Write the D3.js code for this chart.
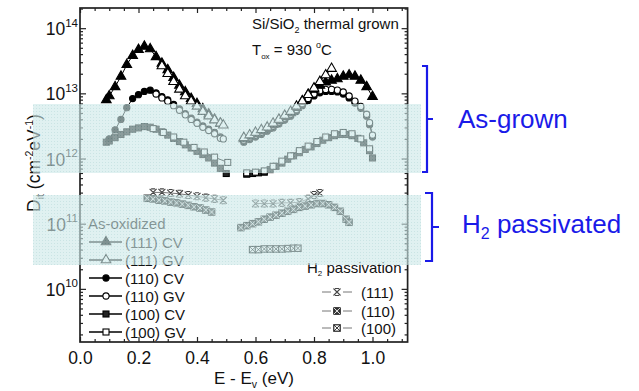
<!DOCTYPE html>
<html><head><meta charset="utf-8">
<script src="https://cdn.jsdelivr.net/npm/d3@7"></script>
<style>body{margin:0;background:#fff}svg{display:block}</style>
</head><body>
<svg id="c" width="639" height="391"></svg>
<script>
// ---------- DATA (E - Ev in eV, Dit in cm^-2 eV^-1) ----------
const xTickLabels = [0.0, 0.2, 0.4, 0.6, 0.8, 1.0];
const yTickExps = [10, 11, 12, 13, 14];

// As-oxidized (as-grown) series
const e111CV_L = [0.09,0.10,0.12,0.14,0.16,0.18,0.20,0.22,0.24,0.26,0.28,0.30,0.32,0.34,0.36,0.38,0.40,0.42,0.44,0.46,0.48];
const d111CV_L = [7.94e12,9.12e12,1.26e13,1.82e13,2.75e13,3.80e13,4.68e13,5.25e13,4.79e13,3.63e13,2.88e13,2.29e13,1.74e13,1.32e13,1.05e13,8.32e12,6.92e12,5.75e12,4.79e12,3.98e12,3.47e12];
const e111CV_R = [0.56,0.58,0.60,0.62,0.64,0.66,0.68,0.70,0.72,0.74,0.76,0.78,0.80,0.82,0.84,0.86,0.88,0.90,0.92,0.94,0.96,0.98,1.00];
const d111CV_R = [2.00e12,2.19e12,2.40e12,2.63e12,2.88e12,3.31e12,3.80e12,4.37e12,5.01e12,6.03e12,7.59e12,9.55e12,1.15e13,1.32e13,1.48e13,1.58e13,1.66e13,1.82e13,1.91e13,1.82e13,1.58e13,1.26e13,8.91e12];

const e111GV_L = [0.28,0.30,0.32,0.34,0.36,0.38,0.40,0.42,0.44,0.46,0.48,0.49];
const d111GV_L = [2.63e13,2.00e13,1.51e13,1.15e13,9.12e12,7.59e12,6.31e12,5.25e12,4.47e12,3.89e12,3.47e12,3.24e12];
const e111GV_R = [0.56,0.58,0.60,0.62,0.64,0.66,0.68,0.70,0.72,0.74,0.76,0.78,0.80,0.82,0.84,0.86];
const d111GV_R = [2.09e12,2.29e12,2.51e12,2.75e12,3.02e12,3.47e12,3.98e12,4.57e12,5.25e12,6.31e12,7.59e12,9.55e12,1.20e13,1.51e13,1.91e13,2.40e13];

const e110CV_L = [0.10,0.12,0.14,0.16,0.18,0.20,0.22,0.24,0.26,0.28,0.30,0.32,0.34,0.36,0.38,0.40,0.42,0.44,0.46,0.48];
const d110CV_L = [2.00e12,2.75e12,3.98e12,6.03e12,8.32e12,9.55e12,1.07e13,1.12e13,1.02e13,8.91e12,7.94e12,6.76e12,5.75e12,4.90e12,4.17e12,3.63e12,3.16e12,2.82e12,2.51e12,2.14e12];
const e110CV_R = [0.56,0.58,0.60,0.62,0.64,0.66,0.68,0.70,0.72,0.74,0.76,0.78,0.80,0.82,0.84,0.86,0.88,0.90,0.92,0.94,0.96,0.98,0.99,1.00];
const d110CV_R = [1.78e12,1.95e12,2.14e12,2.34e12,2.63e12,2.95e12,3.39e12,3.89e12,4.47e12,5.25e12,6.46e12,7.76e12,9.12e12,1.02e13,1.07e13,1.07e13,1.05e13,9.77e12,8.51e12,7.08e12,5.89e12,4.47e12,3.31e12,2.14e12];

const e110GV_L = [0.26,0.28,0.30,0.32,0.34,0.36,0.38,0.40,0.42,0.44,0.46,0.48,0.49];
const d110GV_L = [9.77e12,8.51e12,7.59e12,6.46e12,5.50e12,4.68e12,3.98e12,3.47e12,3.02e12,2.69e12,2.40e12,2.04e12,2.00e12];
const e110GV_R = [0.56,0.58,0.60,0.62,0.64,0.66,0.68,0.70,0.72,0.74,0.76,0.78,0.80,0.82,0.84,0.86,0.88,0.90,0.92,0.94,0.96,0.98,0.99,1.00];
const d110GV_R = [1.91e12,2.09e12,2.29e12,2.51e12,2.82e12,3.16e12,3.63e12,4.17e12,4.79e12,5.62e12,6.92e12,8.32e12,9.77e12,1.10e13,1.15e13,1.15e13,1.12e13,1.05e13,9.12e12,7.59e12,6.31e12,4.79e12,3.55e12,2.29e12];

const e100CV_L = [0.09,0.10,0.12,0.14,0.16,0.18,0.20,0.22,0.24,0.26,0.28,0.30,0.32,0.34,0.36,0.38,0.40,0.42,0.44,0.46,0.48,0.50];
const d100CV_L = [1.78e12,1.86e12,2.09e12,2.34e12,2.57e12,2.82e12,2.95e12,3.09e12,3.02e12,2.82e12,2.57e12,2.29e12,2.04e12,1.82e12,1.62e12,1.45e12,1.29e12,1.15e12,1.02e12,8.51e11,7.08e11,5.89e11];
const e100CV_R = [0.57,0.59,0.61,0.63,0.65,0.67,0.69,0.71,0.73,0.75,0.77,0.79,0.81,0.83,0.85,0.87,0.89,0.91,0.93,0.95,0.97,0.99,1.00];
const d100CV_R = [5.75e11,5.89e11,6.03e11,6.17e11,6.76e11,7.59e11,8.51e11,9.77e11,1.10e12,1.23e12,1.38e12,1.51e12,1.70e12,1.91e12,2.09e12,2.24e12,2.34e12,2.34e12,2.24e12,2.04e12,1.74e12,1.32e12,1.02e12];

const e100GV_L = [0.25,0.285,0.32,0.355,0.39,0.425,0.46,0.505];
const d100GV_L = [2.88e12,2.51e12,2.14e12,1.78e12,1.48e12,1.26e12,1.05e12,8.71e11];
const e100GV_R = [0.57,0.60,0.63,0.66,0.69,0.72,0.75,0.78,0.81,0.84,0.87,0.90,0.93,0.96,0.99];
const d100GV_R = [6.03e11,6.17e11,6.46e11,7.59e11,9.12e11,1.10e12,1.32e12,1.55e12,1.82e12,2.14e12,2.40e12,2.51e12,2.40e12,2.00e12,1.41e12];

// H2 passivated series
const eH111_L = [0.25,0.28,0.31,0.34,0.37,0.40,0.43,0.46,0.49];
const dH111_L = [3.02e11,3.02e11,2.95e11,2.88e11,2.75e11,2.63e11,2.51e11,2.40e11,2.29e11];
const eH111_R = [0.60,0.63,0.66,0.69,0.72,0.75,0.78,0.80,0.82];
const dH111_R = [2.04e11,2.04e11,2.04e11,2.09e11,2.09e11,2.14e11,2.40e11,2.75e11,2.95e11];
const eH110_L = [0.23,0.25,0.27,0.29,0.31,0.33,0.35,0.37,0.39,0.41,0.43,0.45];
const dH110_L = [2.45e11,2.40e11,2.29e11,2.24e11,2.14e11,2.09e11,2.00e11,1.91e11,1.82e11,1.74e11,1.62e11,1.51e11];
const eH110_R = [0.55,0.57,0.59,0.61,0.63,0.65,0.67,0.69,0.71,0.73,0.75,0.77,0.79,0.81,0.83,0.85,0.87,0.89,0.91,0.92];
const dH110_R = [8.71e10,9.33e10,1.00e11,1.07e11,1.17e11,1.26e11,1.35e11,1.45e11,1.55e11,1.66e11,1.78e11,1.86e11,1.95e11,2.04e11,2.04e11,1.95e11,1.78e11,1.55e11,1.17e11,1.05e11];
const eH100_R = [0.59,0.61,0.63,0.65,0.67,0.69,0.71,0.73,0.745];
const dH100_R = [4.0e10,4.0e10,4.1e10,4.1e10,4.1e10,4.1e10,4.15e10,4.2e10,4.2e10];

const asLegend = ["(111) CV","(111) GV","(110) CV","(110) GV","(100) CV","(100) GV"];
const asLegendMarks = ["triF","triO","cirF","cirO","sqF","sqO"];
const h2Legend = ["(111)","(110)","(100)"];
const h2LegendMarks = ["xM","sqXF","sqXO"];

// ---------- LAYOUT ----------
const FONT = "'Liberation Sans', Arial, Helvetica, sans-serif";
const L = 80, R = 407.6, T = 8, B = 342;
const BLUE = "#1a1ae8";
const svg = d3.select("#c");
const x = d3.scaleLinear().domain([0, 1.12]).range([L, R]);
const y = d3.scaleLog().domain([1.53e9, 2.04e14]).range([B, T]);

const zip = (es, ds) => es.map((e, i) => ({e, d: ds[i]}));

// marker drawing
function drawMark(g, type, cx, cy) {
  const s = g.append("g").attr("transform", `translate(${cx},${cy})`);
  const sw = 1.1;
  if (type === "triF" || type === "triO") {
    s.append("path").attr("d", d3.symbol(d3.symbolTriangle, 40)())
      .attr("fill", type === "triF" ? "#000" : "#fff").attr("stroke", "#000").attr("stroke-width", sw);
  } else if (type === "cirF" || type === "cirO") {
    s.append("circle").attr("r", 3.1)
      .attr("fill", type === "cirF" ? "#000" : "#fff").attr("stroke", "#000").attr("stroke-width", sw);
  } else if (type === "sqF" || type === "sqO") {
    s.append("rect").attr("x", -3).attr("y", -3).attr("width", 6).attr("height", 6)
      .attr("fill", type === "sqF" ? "#222" : "#fff").attr("stroke", "#000").attr("stroke-width", sw);
  } else if (type === "xM") {
    s.append("path").attr("d", "M-3.5,-3.5L3.5,3.5M3.5,-3.5L-3.5,3.5M-2,-3.5L2,-3.5M-2,3.5L2,3.5")
      .attr("fill", "none").attr("stroke", "#444").attr("stroke-width", 1.1);
  } else if (type === "sqXF" || type === "sqXO") {
    s.append("rect").attr("x", -3.2).attr("y", -3.2).attr("width", 6.4).attr("height", 6.4)
      .attr("fill", type === "sqXF" ? "#444" : "#fff").attr("stroke", "#111").attr("stroke-width", 1.1);
    s.append("path").attr("d", "M-3.2,-3.2L3.2,3.2M3.2,-3.2L-3.2,3.2")
      .attr("stroke", type === "sqXF" ? "#eee" : "#222").attr("stroke-width", 0.9);
  }
}

function drawSeries(es, ds, type, lineColor) {
  const data = zip(es, ds);
  const g = svg.append("g");
  g.append("path").datum(data)
    .attr("d", d3.line().x(p => x(p.e)).y(p => y(p.d)))
    .attr("fill", "none").attr("stroke", lineColor || "#000").attr("stroke-width", 1);
  data.forEach(p => drawMark(g, type, x(p.e), y(p.d)));
}

// ---------- AXES ----------
const xMinor = d3.range(0, 1.12, 0.05).filter(v => Math.abs(v / 0.2 - Math.round(v / 0.2)) > 0.01);
const yMajor = yTickExps.map(k => Math.pow(10, k));
const yMinor = [];
for (let k = 9; k <= 14; k++) for (let m = 2; m <= 9; m++) {
  const v = m * Math.pow(10, k);
  if (v > y.domain()[0] && v < y.domain()[1]) yMinor.push(v);
}
function axisStyle(g) { g.select(".domain").remove(); g.selectAll("line").attr("stroke", "#222").attr("stroke-width", 1.2); }

svg.append("g").attr("transform", `translate(0,${B})`)
  .call(d3.axisBottom(x).tickValues(xTickLabels).tickSize(-5).tickPadding(10).tickFormat(d3.format(".1f")))
  .call(axisStyle)
  .call(g => g.selectAll("text").attr("font-family", FONT).attr("font-size", 17.5).attr("fill", "#111"));
svg.append("g").attr("transform", `translate(0,${B})`)
  .call(d3.axisBottom(x).tickValues(xMinor).tickSize(-3).tickFormat("")).call(axisStyle);
svg.append("g").attr("transform", `translate(0,${T})`)
  .call(d3.axisTop(x).tickValues(xTickLabels).tickSize(-5).tickFormat("")).call(axisStyle);
svg.append("g").attr("transform", `translate(0,${T})`)
  .call(d3.axisTop(x).tickValues(xMinor).tickSize(-3).tickFormat("")).call(axisStyle);

svg.append("g").attr("transform", `translate(${L},0)`)
  .call(d3.axisLeft(y).tickValues(yMajor).tickSize(-6).tickFormat("")).call(axisStyle);
svg.append("g").attr("transform", `translate(${L},0)`)
  .call(d3.axisLeft(y).tickValues(yMinor).tickSize(-3).tickFormat("")).call(axisStyle);
svg.append("g").attr("transform", `translate(${R},0)`)
  .call(d3.axisRight(y).tickValues(yMajor).tickSize(-6).tickFormat("")).call(axisStyle);
svg.append("g").attr("transform", `translate(${R},0)`)
  .call(d3.axisRight(y).tickValues(yMinor).tickSize(-3).tickFormat("")).call(axisStyle);

// y tick labels 10^n
yTickExps.forEach(k => {
  const t = svg.append("text").attr("x", 78).attr("y", y(Math.pow(10, k)) + 7)
    .attr("text-anchor", "end").attr("font-family", FONT).attr("fill", "#111");
  t.append("tspan").attr("font-size", 17.5).text("10");
  t.append("tspan").attr("font-size", 11.5).attr("dy", -8.5).text(k);
});

// frame
svg.append("rect").attr("x", L).attr("y", T).attr("width", R - L).attr("height", B - T)
  .attr("fill", "none").attr("stroke", "#222").attr("stroke-width", 1.7);

// axis titles
const yt = svg.append("text").attr("transform", "translate(40,163) rotate(-90)")
  .attr("text-anchor", "middle").attr("font-family", FONT).attr("font-size", 17.5).attr("fill", "#111");
yt.append("tspan").text("D");
yt.append("tspan").attr("font-size", 10.5).attr("dy", 4).text("it");
yt.append("tspan").attr("dy", -4).text(" (cm");
yt.append("tspan").attr("font-size", 10.5).attr("dy", -7.5).text("-2");
yt.append("tspan").attr("dy", 7.5).text("eV");
yt.append("tspan").attr("font-size", 10.5).attr("dy", -7.5).text("-1");
yt.append("tspan").attr("dy", 7.5).text(")");

const xt = svg.append("text").attr("x", 214).attr("y", 384)
  .attr("font-family", FONT).attr("font-size", 17).attr("fill", "#111");
xt.append("tspan").text("E - E");
xt.append("tspan").attr("font-size", 10.5).attr("dy", 4).text("v");
xt.append("tspan").attr("dy", -4).text(" (eV)");

// ---------- DATA SERIES ----------
drawSeries(e100CV_L, d100CV_L, "sqF");
drawSeries(e100CV_R, d100CV_R, "sqF");
drawSeries(e100GV_L, d100GV_L, "sqO");
drawSeries(e100GV_R, d100GV_R, "sqO");
drawSeries(e110CV_L, d110CV_L, "cirF");
drawSeries(e110CV_R, d110CV_R, "cirF");
drawSeries(e110GV_L, d110GV_L, "cirO");
drawSeries(e110GV_R, d110GV_R, "cirO");
drawSeries(e111CV_L, d111CV_L, "triF");
drawSeries(e111CV_R, d111CV_R, "triF");
drawSeries(e111GV_L, d111GV_L, "triO");
drawSeries(e111GV_R, d111GV_R, "triO");

drawSeries(eH111_L, dH111_L, "xM", "#777");
drawSeries(eH111_R, dH111_R, "xM", "#777");
drawSeries(eH110_L, dH110_L, "sqXF", "#444");
drawSeries(eH110_R, dH110_R, "sqXF", "#444");
drawSeries(eH100_R, dH100_R, "sqXO", "#444");

// in-plot annotations
const a1 = svg.append("text").attr("x", 252).attr("y", 29).attr("font-family", FONT).attr("font-size", 15).attr("fill", "#111");
a1.append("tspan").text("Si/SiO");
a1.append("tspan").attr("font-size", 9).attr("dy", 4).text("2");
a1.append("tspan").attr("dy", -4).text(" thermal grown");
const a2 = svg.append("text").attr("x", 252).attr("y", 55).attr("font-family", FONT).attr("font-size", 15).attr("fill", "#111");
a2.append("tspan").text("T");
a2.append("tspan").attr("font-size", 8).attr("dy", 4).text("ox");
a2.append("tspan").attr("dy", -4).text(" = 930 ");
a2.append("tspan").attr("font-size", 9).attr("dy", -7).text("o");
a2.append("tspan").attr("dy", 7).text("C");

// legend: As-oxidized
svg.append("text").attr("x", 88).attr("y", 229).attr("font-family", FONT).attr("font-size", 15).attr("fill", "#111").text("As-oxidized");
asLegend.forEach((lab, i) => {
  const cy = 242 + i * 18;
  const g = svg.append("g");
  g.append("line").attr("x1", 89).attr("x2", 122).attr("y1", cy).attr("y2", cy).attr("stroke", "#000").attr("stroke-width", 1.3);
  drawMark(g, asLegendMarks[i], 106, cy);
  g.append("text").attr("x", 125).attr("y", cy + 5.5).attr("font-family", FONT).attr("font-size", 15).attr("fill", "#111").text(lab);
});

// legend: H2 passivation
const h2t = svg.append("text").attr("x", 307).attr("y", 273).attr("font-family", FONT).attr("font-size", 15).attr("fill", "#111");
h2t.append("tspan").text("H");
h2t.append("tspan").attr("font-size", 8).attr("dy", 3).text("2");
h2t.append("tspan").attr("dy", -3).text(" passivation");
h2Legend.forEach((lab, i) => {
  const cy = [292, 311, 328][i];
  const g = svg.append("g");
  g.append("line").attr("x1", 322).attr("x2", 331).attr("y1", cy).attr("y2", cy).attr("stroke", "#777").attr("stroke-width", 1);
  g.append("line").attr("x1", 343).attr("x2", 352).attr("y1", cy).attr("y2", cy).attr("stroke", "#777").attr("stroke-width", 1);
  drawMark(g, h2LegendMarks[i], 337, cy);
  g.append("text").attr("x", 361).attr("y", cy + 5.5).attr("font-family", FONT).attr("font-size", 15).attr("fill", "#111").text(lab);
});

// ---------- SHADED BANDS (overlay) ----------
const defs = svg.append("defs");
const pat = defs.append("pattern").attr("id", "dots").attr("width", 3).attr("height", 3).attr("patternUnits", "userSpaceOnUse");
pat.append("rect").attr("width", 3).attr("height", 3).attr("fill", "#cde8e8");
pat.append("rect").attr("width", 1).attr("height", 1).attr("fill", "#a9d3d3");
[[104, 173], [195, 265]].forEach(([y0, y1]) => {
  svg.append("rect").attr("x", 33).attr("y", y0).attr("width", 421 - 33).attr("height", y1 - y0)
    .attr("fill", "url(#dots)").attr("opacity", 0.62);
});

// ---------- BRACKETS & LABELS ----------
function bracket(xv, xa, y0, y1, ym, xt) {
  svg.append("path").attr("d", `M${xa},${y0}H${xv}V${y1}H${xa}M${xv},${ym}H${xt}`)
    .attr("fill", "none").attr("stroke", BLUE).attr("stroke-width", 2.2);
}
bracket(427, 422, 66, 172, 119, 433);
bracket(432, 425, 193, 261, 227, 439);
svg.append("text").attr("x", 458).attr("y", 128).attr("font-family", FONT).attr("font-size", 26).attr("fill", BLUE).text("As-grown");
const hp = svg.append("text").attr("x", 462).attr("y", 233).attr("font-family", FONT).attr("font-size", 26).attr("fill", BLUE);
hp.append("tspan").text("H");
hp.append("tspan").attr("font-size", 16).attr("dy", 6).text("2");
hp.append("tspan").attr("dy", -6).text(" passivated");
</script>
</body></html>
